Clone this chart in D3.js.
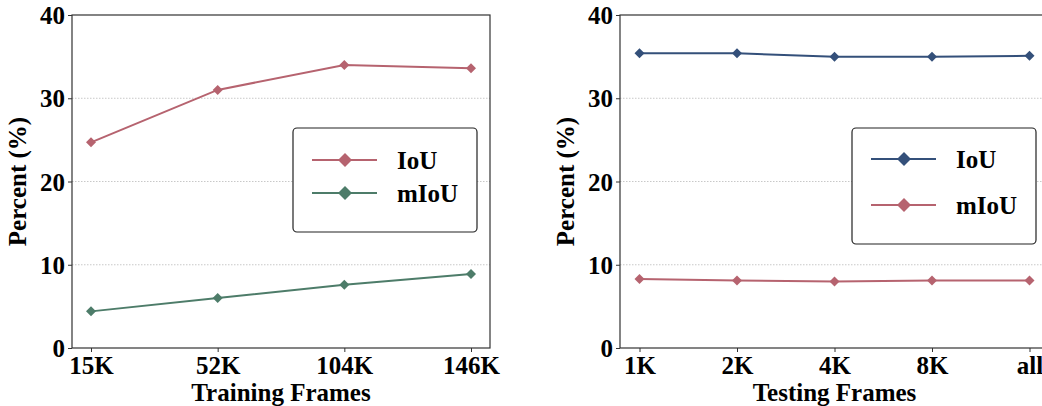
<!DOCTYPE html>
<html>
<head>
<meta charset="utf-8">
<script src="https://cdn.jsdelivr.net/npm/d3@7"></script>
<style>
  body { margin: 0; background: #fff; }
  svg text { font-family: "Liberation Serif", "Times New Roman", serif; font-weight: bold; }
</style>
</head>
<body>
<div class="chart"></div>
<script>
// left panel: training frames
var trainFrames = ["15K", "52K", "104K", "146K"];
var trainIoU = [24.7, 31.0, 34.0, 33.6];
var trainMIoU = [4.4, 6.0, 7.6, 8.9];

// right panel: testing frames
var testFrames = ["1K", "2K", "4K", "8K", "all"];
var testIoU = [35.4, 35.4, 35.0, 35.0, 35.1];
var testMIoU = [8.3, 8.1, 8.0, 8.1, 8.1];

var yTicks = [0, 10, 20, 30, 40];

var PINK = "#b6636f", GREEN = "#4d7c69", NAVY = "#34507a";
var FS = "25px";

var svg = d3.select(".chart").append("svg")
  .attr("width", 1042).attr("height", 406);

function diamond(g, x, y, r, color) {
  g.append("path")
    .attr("d", "M" + x + "," + (y - r) + "L" + (x + r) + "," + y + "L" + x + "," + (y + r) + "L" + (x - r) + "," + y + "Z")
    .attr("fill", color);
}

function panel(opts) {
  var left = opts.left, right = opts.right, top = 15, bottom = 348;
  var g = svg.append("g");

  var x = d3.scalePoint().domain(opts.cats).range([left, right]).padding(opts.pad);
  var y = d3.scaleLinear().domain([0, 40]).range([bottom, top]);

  // dotted grid
  g.selectAll(".grid").data(yTicks.slice(1, 4)).enter().append("line")
    .attr("x1", left).attr("x2", right)
    .attr("y1", function (d) { return y(d); }).attr("y2", function (d) { return y(d); })
    .style("stroke", "#c8c8c8").style("stroke-width", 1).style("stroke-dasharray", "1.5,1.5");

  // spines
  g.append("rect")
    .attr("x", left).attr("y", top).attr("width", right - left).attr("height", bottom - top)
    .attr("fill", "none").style("stroke", "#333").style("stroke-width", 1.2);

  var yAxis = g.append("g").attr("transform", "translate(" + left + ",0)")
    .call(d3.axisLeft(y).tickValues(yTicks).tickSize(4).tickPadding(3));
  var xAxis = g.append("g").attr("transform", "translate(0," + bottom + ")")
    .call(d3.axisBottom(x).tickSize(4).tickPadding(4));
  [yAxis, xAxis].forEach(function (a) {
    a.select(".domain").remove();
    a.selectAll("line").style("stroke", "#333");
    a.selectAll("text").style("font-size", FS).style("fill", "#000")
      .style("font-family", "'Liberation Serif', serif").style("font-weight", "bold");
  });
  yAxis.selectAll("text").attr("dy", "0.34em");

  g.append("text").attr("x", (left + opts.axisRight) / 2).attr("y", 401)
    .attr("text-anchor", "middle").style("font-size", FS).text(opts.xlabel);
  g.append("text")
    .attr("transform", "translate(" + (left - 41) + "," + (top + bottom) / 2 + ") rotate(-90)")
    .attr("text-anchor", "middle").attr("dy", "-0.2em").style("font-size", FS).text("Percent (%)");

  var line = d3.line().x(function (d, i) { return x(opts.cats[i]); }).y(function (d) { return y(d); });
  opts.series.forEach(function (s) {
    g.append("path").datum(s.values).attr("d", line)
      .attr("fill", "none").style("stroke", s.color).style("stroke-width", 2);
    s.values.forEach(function (v, i) { diamond(g, x(opts.cats[i]), y(v), 5, s.color); });
  });

  // legend
  var lg = opts.legend;
  g.append("rect").attr("x", lg.x).attr("y", lg.y).attr("width", lg.w).attr("height", lg.h)
    .attr("rx", 4).attr("fill", "#fff").style("stroke", "#222").style("stroke-width", 1.2);
  opts.series.forEach(function (s, i) {
    var ry = lg.y + lg.first + i * lg.gap;
    g.append("line").attr("x1", lg.x + 19).attr("x2", lg.x + 84).attr("y1", ry).attr("y2", ry)
      .style("stroke", s.color).style("stroke-width", 2);
    diamond(g, lg.x + 52, ry, 7, s.color);
    g.append("text").attr("x", lg.x + 104).attr("y", ry).attr("dy", "0.35em")
      .style("font-size", FS).text(s.name);
  });
}

panel({
  left: 72, right: 490, axisRight: 490, pad: 0.15, cats: trainFrames, xlabel: "Training Frames",
  series: [
    { name: "IoU", values: trainIoU, color: PINK },
    { name: "mIoU", values: trainMIoU, color: GREEN }
  ],
  legend: { x: 293, y: 128, w: 184, h: 104, first: 32, gap: 33 }
});

panel({
  left: 620, right: 1049, axisRight: 1049, pad: 0.2, cats: testFrames, xlabel: "Testing Frames",
  series: [
    { name: "IoU", values: testIoU, color: NAVY },
    { name: "mIoU", values: testMIoU, color: PINK }
  ],
  legend: { x: 852, y: 128, w: 184, h: 116, first: 31, gap: 46 }
});
</script>
</body>
</html>
